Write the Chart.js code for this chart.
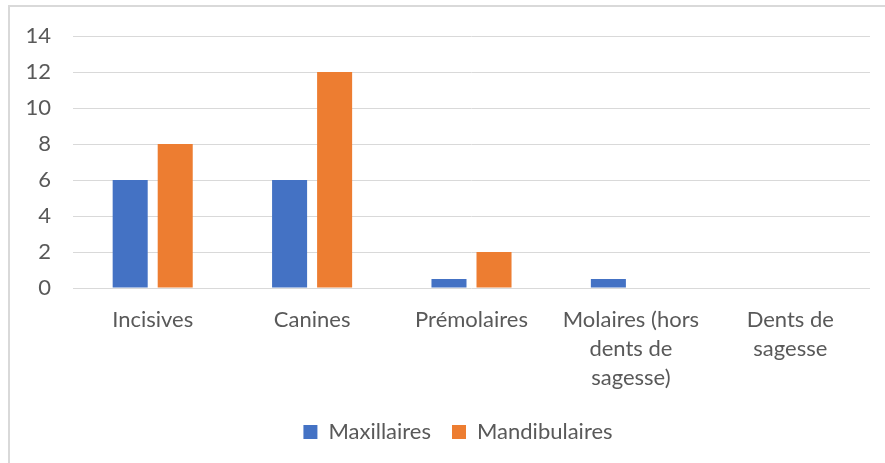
<!DOCTYPE html>
<html>
<head>
<meta charset="utf-8">
<script src="https://cdn.jsdelivr.net/npm/chart.js@4/dist/chart.umd.min.js"></script>
<style>
  html, body { margin: 0; padding: 0; background: #ffffff; }
  #wrap { position: relative; width: 885px; height: 463px; overflow: hidden; }
  #frame { position: absolute; left: 8px; top: 5px; width: 900px; height: 500px;
           border-left: 2px solid #d9d9d9; border-top: 2px solid #d9d9d9; box-sizing: border-box; pointer-events: none; }
  canvas { position: absolute; left: 0; top: 0; }
</style>
</head>
<body>
<div id="wrap">
  <canvas id="c" width="885" height="463"></canvas>
  <div id="frame"></div>
</div>
<script>
const categories = ["Incisives", "Canines", "Prémolaires", ["Molaires (hors", "dents de", "sagesse)"], ["Dents de", "sagesse"]];
const seriesNames = ["Maxillaires", "Mandibulaires"];
const maxillaires = [6, 6, 0.5, 0.5, 0];
const mandibulaires = [8, 12, 2, 0, 0];
const yTicks = [0, 2, 4, 6, 8, 10, 12, 14];

const FONT = "Lato, 'Open Sans', sans-serif";
const TEXT = "#595959";

const shiftLegend = {
  id: "shiftLegend",
  afterLayout(chart) {
    const l = chart.legend;
    if (l) { l.left += 23; l.right += 23; }
  }
};

new Chart(document.getElementById("c"), {
  type: "bar",
  data: {
    labels: categories,
    datasets: [
      { label: seriesNames[0], data: maxillaires, backgroundColor: "#4472C4", borderWidth: 0,
        categoryPercentage: 0.565, barPercentage: 0.778 },
      { label: seriesNames[1], data: mandibulaires, backgroundColor: "#ED7D31", borderWidth: 0,
        categoryPercentage: 0.565, barPercentage: 0.778 }
    ]
  },
  plugins: [shiftLegend],
  options: {
    responsive: false,
    animation: false,
    devicePixelRatio: 1,
    layout: { padding: { top: 36, right: 15, bottom: 10, left: 0 } },
    plugins: {
      tooltip: { enabled: false },
      legend: {
        position: "bottom",
        labels: {
          color: TEXT,
          font: { family: FONT, size: 22 },
          boxWidth: 14,
          boxHeight: 14,
          padding: 21
        }
      }
    },
    scales: {
      x: {
        grid: { display: false, drawTicks: false },
        border: { display: false },
        ticks: { color: TEXT, font: { family: FONT, size: 22, lineHeight: "29px" }, padding: 17, maxRotation: 0, autoSkip: false },
        afterFit: (s) => { s.height = 112; }
      },
      y: {
        min: 0, max: 14,
        afterBuildTicks: (s) => { s.ticks = yTicks.map(v => ({ value: v })); },
        grid: { color: "#d9d9d9", lineWidth: 1, drawTicks: false },
        border: { display: false },
        ticks: { color: TEXT, font: { family: FONT, size: 22 }, padding: 22 },
        afterFit: (s) => { s.width = 73; }
      }
    }
  }
});
</script>
</body>
</html>
